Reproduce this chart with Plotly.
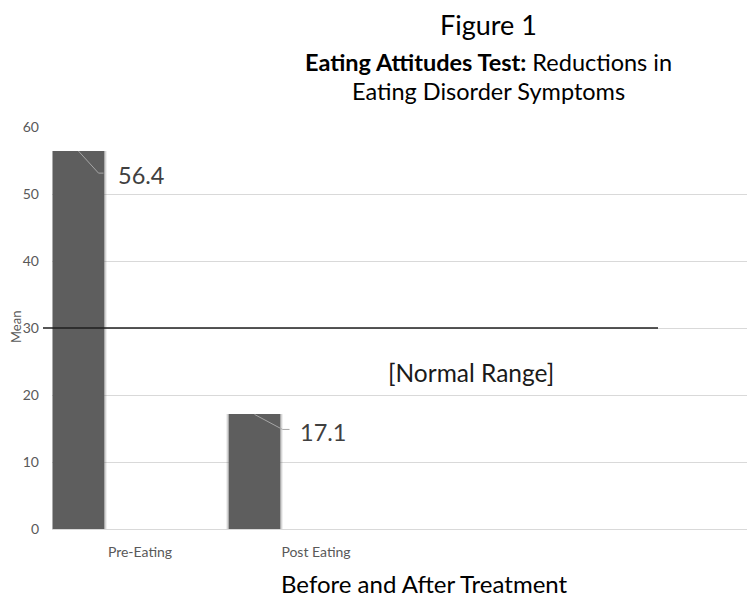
import plotly.graph_objects as go

# Eating Attitudes Test means before and after treatment
categories = ["Pre-Eating", "Post Eating"]
means = [56.4, 17.1]
normal_cutoff = 30
y_ticks = [0, 10, 20, 30, 40, 50, 60]

FONT = "Lato"
W, H = 747, 600
ML, MR, MT, MB = 52, 0, 127, 71
plot_w = W - ML - MR
plot_h = H - MT - MB
band_px = 176.0                      # pixels per category band
x_lo = -0.5
x_hi = x_lo + plot_w / band_px
y_lo, y_hi = 0, 60
px_per_y = plot_h / (y_hi - y_lo)

bar_w = 51 / band_px
bar_off = -0.5 + 1 / band_px          # bar sits at the left of its band
bar_centres = [i + bar_off + bar_w / 2 for i in range(len(categories))]
xs = list(range(len(categories)))

fig = go.Figure()

# soft edges: faint halo layers under the solid bar
for extra, alpha in [(3, 0.10), (2, 0.18), (1, 0.35)]:
    fig.add_trace(go.Bar(
        x=xs, y=means,
        width=bar_w + 2 * extra / band_px,
        offset=bar_off - extra / band_px,
        marker=dict(color=f"rgba(95,95,95,{alpha})", line=dict(width=0)),
        hoverinfo="skip", showlegend=False,
    ))
fig.add_trace(go.Bar(
    x=xs, y=means, width=bar_w, offset=bar_off,
    marker=dict(color="#5e5e5e", line=dict(width=0)),
    showlegend=False,
))

# leader lines and value labels (pixel offsets of the elbow and label)
leader = [dict(dx=20, dy=22, tail=5, lx=37, ly=24),
          dict(dx=28, dy=15, tail=7, lx=43, ly=18)]
for xc, v, s in zip(bar_centres, means, leader):
    xe = xc + s["dx"] / band_px
    ye = v - s["dy"] / px_per_y
    fig.add_trace(go.Scatter(
        x=[xc, xe, xe + s["tail"] / band_px], y=[v, ye, ye],
        mode="lines", line=dict(color="#a6a6a6", width=1),
        hoverinfo="skip", showlegend=False,
    ))
    fig.add_annotation(
        x=xc + s["lx"] / band_px, y=v - s["ly"] / px_per_y,
        text=f"{v:.1f}", showarrow=False, xanchor="left", yanchor="middle",
        font=dict(family=FONT, size=23.5, color="#404040"),
    )

# normal-range threshold line
fig.add_shape(type="line", xref="paper", yref="y",
              x0=(43 - ML) / plot_w, x1=(658 - ML) / plot_w,
              y0=normal_cutoff, y1=normal_cutoff,
              line=dict(color="#1f1f1f", width=1.6), layer="above")
fig.add_annotation(x=1.40, y=normal_cutoff - 6.7, text="[Normal Range]",
                   showarrow=False, xanchor="left", yanchor="middle",
                   font=dict(family=FONT, size=24.5, color="#1a1a1a"))


def py(p):
    return (H - MB - p) / plot_h


def px(p):
    return (p - ML) / plot_w


def paper_text(x, y, text, size, color="#000000", angle=0):
    fig.add_annotation(xref="paper", yref="paper", x=px(x), y=py(y),
                       text=text, showarrow=False, textangle=angle,
                       xanchor="center", yanchor="middle",
                       font=dict(family=FONT, size=size, color=color))


# titles
paper_text(488, 25, "Figure 1", 27)
paper_text(488, 62, "<b>Eating Attitudes Test:</b> Reductions in", 23.5)
paper_text(488, 91, "Eating Disorder Symptoms", 23.5)
paper_text(425, 583, "Before and After Treatment", 24)
paper_text(16, 327, "Mean", 13, color="#595959", angle=-90)

fig.update_layout(
    width=W, height=H, autosize=False,
    margin=dict(l=ML, r=MR, t=MT, b=MB, pad=0),
    paper_bgcolor="white", plot_bgcolor="white",
    barmode="overlay", bargap=0,
    font=dict(family=FONT, color="#595959"),
    xaxis=dict(range=[x_lo, x_hi], tickvals=xs,
               ticktext=categories, showgrid=False, zeroline=False,
               showline=True, linecolor="#d9d9d9", linewidth=1,
               ticks="", ticklabelstandoff=10,
               tickfont=dict(family=FONT, size=14, color="#595959")),
    yaxis=dict(range=[y_lo, y_hi], tickvals=y_ticks, showgrid=True,
               gridcolor="#d9d9d9", gridwidth=1, zeroline=False,
               showline=False, ticks="", ticklabelstandoff=12,
               tickfont=dict(family=FONT, size=14, color="#595959")),
)

fig.write_html("out.html")
